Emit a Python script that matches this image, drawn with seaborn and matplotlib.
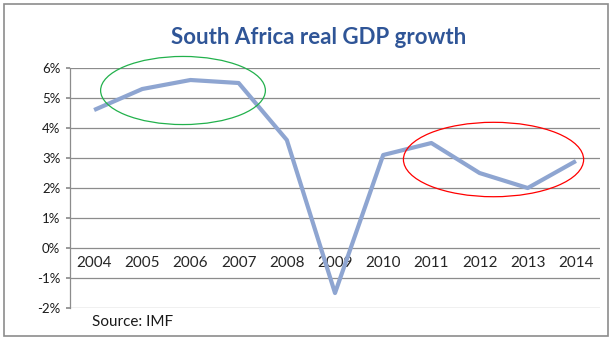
import matplotlib
matplotlib.use("Agg")
import matplotlib.pyplot as plt
from matplotlib.patches import Ellipse, Rectangle
import seaborn as sns
import pandas as pd

years = ["2004", "2005", "2006", "2007", "2008", "2009", "2010", "2011", "2012", "2013", "2014"]
growth = [4.6, 5.3, 5.6, 5.5, 3.6, -1.5, 3.1, 3.5, 2.5, 2.0, 2.9]
y_ticks = [-2, -1, 0, 1, 2, 3, 4, 5, 6]
y_labels = ["-2%", "-1%", "0%", "1%", "2%", "3%", "4%", "5%", "6%"]

sns.set_theme(style="white")
plt.rcParams["font.family"] = ["Lato", "DejaVu Sans"]

df = pd.DataFrame({"pos": range(len(years)), "growth": growth})

fig = plt.figure(figsize=(6.12, 3.40), dpi=100)
ax = fig.add_axes([0.1144, 0.094, 0.866, 0.706])

sns.lineplot(data=df, x="pos", y="growth", ax=ax, color="#8EA5D1", linewidth=3.0,
             solid_capstyle="butt", zorder=3)

ax.set_xlim(-0.5, len(years) - 0.5)
ax.set_ylim(-2, 6)
ax.set_yticks(y_ticks)
ax.set_yticklabels(y_labels, fontsize=9.5, color="#1a1a1a")
ax.set_xticks(range(len(years)))
ax.set_xticklabels(years, fontsize=9, color="#1a1a1a")
ax.set_xlabel("")
ax.set_ylabel("")

for v in y_ticks:
    ax.axhline(v, color="#8C8C8C", linewidth=0.9, zorder=1)

for s in ["top", "right"]:
    ax.spines[s].set_visible(False)
ax.spines["left"].set_color("#8C8C8C")
ax.spines["left"].set_linewidth(0.9)
ax.spines["bottom"].set_position(("data", 0))
ax.spines["bottom"].set_visible(False)
ax.tick_params(axis="x", length=0, pad=6)
ax.tick_params(axis="y", length=3, color="#8C8C8C", pad=4, left=True)

ax.add_patch(Ellipse((1.845, 5.25), 3.42, 2.27, fill=False, edgecolor="#22B14C",
                     linewidth=0.9, zorder=4, clip_on=False))
ax.add_patch(Ellipse((8.29, 2.95), 3.74, 2.48, fill=False, edgecolor="#FF0000",
                     linewidth=0.9, zorder=4, clip_on=False))

fig.text(0.52, 0.89, "South Africa real GDP growth", ha="center", va="center",
         fontsize=16, fontweight="bold", color="#2F5597")
fig.text(0.15, 0.052, "Source: IMF", ha="left", va="center", fontsize=11, color="#1a1a1a")

fig.patches.append(Rectangle((0.007, 0.012), 0.986, 0.976, transform=fig.transFigure,
                             fill=False, edgecolor="#8C8C8C", linewidth=1.2))

fig.savefig("out.png", dpi=100)
